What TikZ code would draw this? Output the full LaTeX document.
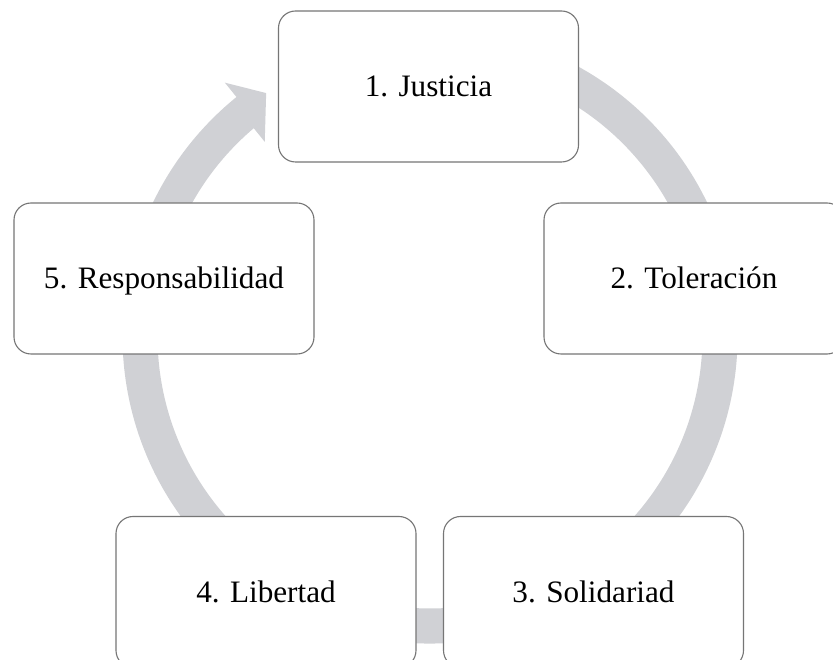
\documentclass[tikz,border=0pt]{standalone}
\usepackage{fontspec}
\setmainfont{Liberation Serif}
\definecolor{ringgray}{RGB}{208,209,213}
\definecolor{edgegray}{RGB}{118,118,118}
\tikzset{
  valuebox/.style={draw=edgegray, line width=1.1pt, fill=white, rounded corners=17pt,
    minimum width=300pt, minimum height=151pt, inner sep=0pt,
    font=\fontsize{31.2}{36}\selectfont, text height=20.5pt, text depth=0pt}
}
\begin{document}
\begin{tikzpicture}[x=1pt,y=1pt]
                \useasboundingbox (0,0) rectangle (833,659);
                \clip (0,0) rectangle (833,659);
                \fill [white] (0,0) rectangle (833,659);
                \coordinate (c) at (430,323);
                \fill [ringgray] ([shift={(c)}]100:307.5) arc [start angle=100, end angle=-231, radius=307.5]
                    -- ([shift={(c)}]129:326) -- ([shift={(c)}]124:293) -- ([shift={(c)}]130.4:255)
                    -- ([shift={(c)}]130.3:272.5) arc [start angle=-229.7, end angle=100, radius=272.5] -- cycle;
                \node [valuebox] (justicia) at (428.5,572.5) {1. Justicia};
                \node [valuebox] (toleracion) at (694,380.5) {2. Toleración};
                \node [valuebox] (solidariad) at (593.5,67) {3. Solidariad};
                \node [valuebox] (libertad) at (266,67) {4. Libertad};
                \node [valuebox] (responsabilidad) at (164,380.5) {5. Responsabilidad};
            \end{tikzpicture}
\end{document}
